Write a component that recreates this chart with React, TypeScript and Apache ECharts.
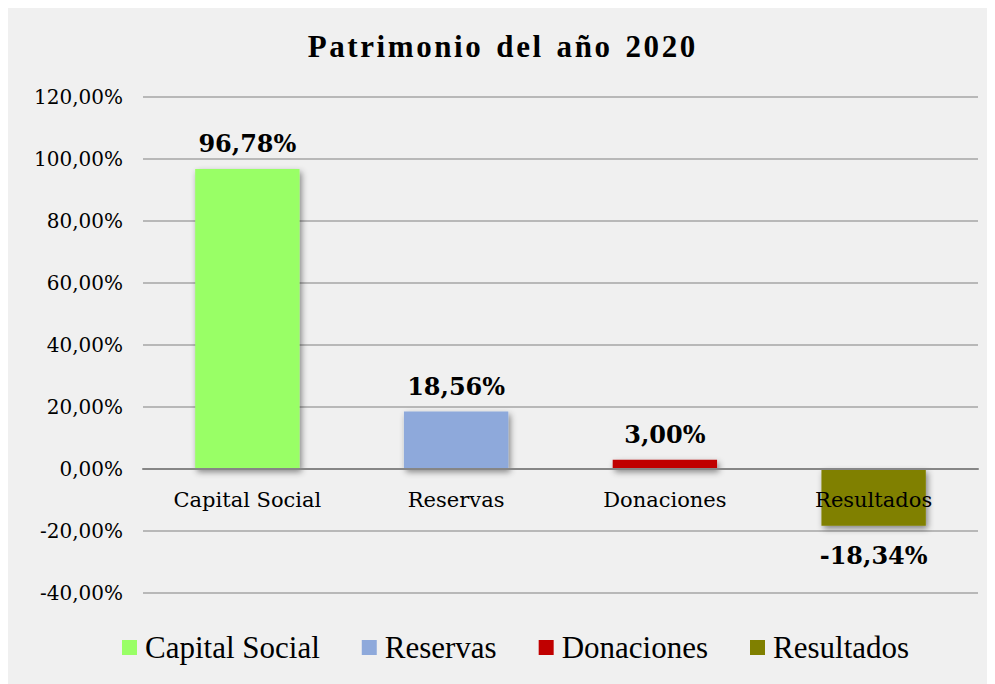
import React, { useEffect, useRef } from "react";
import * as echarts from "echarts";

const categories = ["Capital Social", "Reservas", "Donaciones", "Resultados"];
const values = [96.78, 18.56, 3.0, -18.34];
const colors = ["#99FF66", "#8EA9DB", "#C00000", "#808000"];
const yTicks = { min: -40, max: 120, interval: 20 };
const titleText = "Patrimonio del año 2020";

const fmt = (v: number) => v.toFixed(2).replace(".", ",") + "%";
const spaced = (s: string) =>
  s
    .split(" ")
    .map((w) => Array.from(w).join("\u200A"))
    .join("\u2002");

export default function App() {
  const ref = useRef<HTMLDivElement>(null);
  useEffect(() => {
    if (!ref.current) return;
    const chart = echarts.init(ref.current, undefined, { renderer: "svg" });
    const series = categories.map((name, i) => ({
      name,
      type: "bar",
      stack: "all",
      barWidth: "50%",
      data: categories.map((_, j) => (j === i ? values[i] : "-")),
      itemStyle: {
        color: colors[i],
        shadowBlur: 6,
        shadowColor: "rgba(0,0,0,0.45)",
        shadowOffsetX: 2,
        shadowOffsetY: 3,
      },
      label: {
        show: true,
        position: values[i] >= 0 ? "top" : "bottom",
        distance: values[i] >= 0 ? 13 : 18,
        formatter: (p: any) => fmt(p.value),
        fontFamily: "DejaVu Serif",
        fontWeight: "bold",
        fontSize: 24,
        color: "#000",
      },
    }));
    chart.setOption({
      animation: false,
      backgroundColor: "#F0F0F0",
      title: {
        text: spaced(titleText),
        left: "center",
        top: 18,
        textStyle: {
          fontFamily: "Liberation Serif",
          fontWeight: "bold",
          fontSize: 31,
          color: "#000",
        },
      },
      legend: {
        bottom: 16,
        left: 109,
        itemWidth: 15,
        itemHeight: 15,
        itemGap: 42,
        icon: "rect",
        data: categories,
        textStyle: {
          fontFamily: "Liberation Serif",
          fontSize: 31,
          color: "#000",
          padding: [0, 0, 0, 3],
        },
      },
      grid: { left: 135, right: 17, top: 89, bottom: 91 },
      xAxis: {
        type: "category",
        data: categories,
        z: 5,
        axisLine: { onZero: true, lineStyle: { color: "#868686", width: 2 } },
        axisTick: { show: false },
        axisLabel: {
          fontFamily: "DejaVu Serif",
          fontSize: 21,
          color: "#000",
          margin: -104,
        },
      },
      yAxis: {
        type: "value",
        min: yTicks.min,
        max: yTicks.max,
        interval: yTicks.interval,
        axisLine: { show: false },
        axisTick: { show: false },
        splitLine: { lineStyle: { color: "#A6A6A6", width: 1.5 } },
        axisLabel: {
          formatter: (v: number) => fmt(v),
          fontFamily: "DejaVu Serif",
          fontSize: 20,
          color: "#000",
          margin: 20,
        },
      },
      series,
    });
    return () => chart.dispose();
  }, []);
  return <div ref={ref} style={{ width: 987, height: 676 }} />;
}
